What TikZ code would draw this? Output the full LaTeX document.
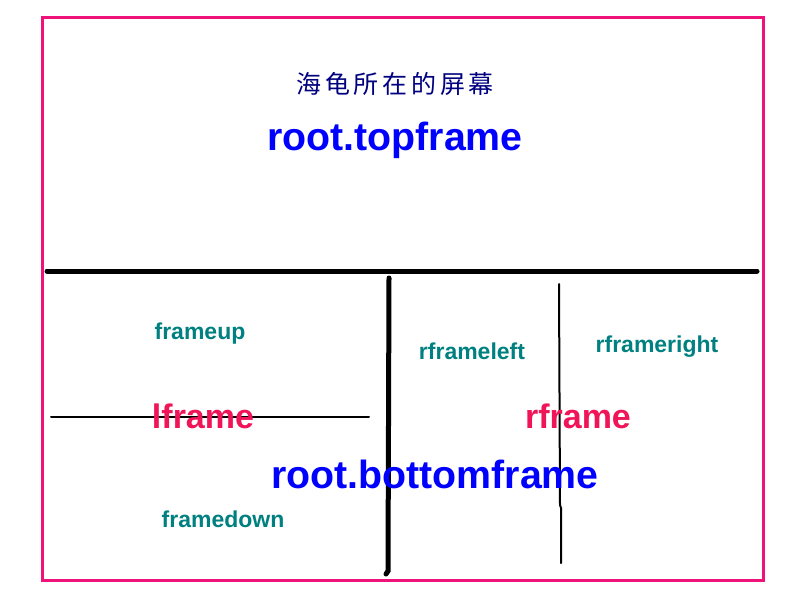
\documentclass[tikz,border=0pt]{standalone}
\usepackage{fontspec}
\setmainfont{Liberation Sans}
\newfontfamily\cjk[LetterSpace=15]{Noto Sans CJK SC}
\definecolor{framepink}{RGB}{238,18,122}
\definecolor{redtxt}{RGB}{240,20,88}
\definecolor{tealtxt}{RGB}{0,128,128}
\definecolor{bluetxt}{RGB}{0,0,255}
\definecolor{navytxt}{RGB}{0,0,128}
\tikzset{
  big/.style={font=\fontsize{39.3}{42}\selectfont\bfseries, text=bluetxt, inner sep=0pt},
  mid/.style={font=\fontsize{34}{36}\selectfont\bfseries, text=redtxt, inner sep=0pt},
  small/.style={font=\fontsize{23}{26}\selectfont\bfseries, text=tealtxt, inner sep=0pt},
  thickline/.style={line width=5pt, line cap=round},
  thinline/.style={line width=2pt, line cap=round},
}
\begin{document}
\begin{tikzpicture}[x=1pt,y=-1pt]
\useasboundingbox (0,0) rectangle (800,600);
\fill[white] (0,0) rectangle (800,600);
\draw[framepink, line width=3pt] (42,17) rectangle (763,580);
% lines
\draw[thickline] (47,271) -- (757,271);
\draw[thickline] (389,278) -- (388,571) -- (386,574);
\draw[thinline] (51,417) -- (369,417);
\draw[thinline] (559,284) -- (560,505) -- (561,508) -- (561,563);
% texts
\node[font=\cjk\fontsize{25}{28}\selectfont, text=navytxt, inner sep=0pt] (title) at (395,84) {海龟所在的屏幕};
\node[big] (top) at (395,140) {root.topframe};
\node[small] (up) at (200,334) {frameup};
\node[mid] (lf) at (203,416) {lframe};
\node[small] (rl) at (472,351) {rframeleft};
\node[small] (rr) at (657,347) {rframeright};
\node[mid] (rf) at (578,416) {rframe};
\node[big] (bot) at (435,474) {root.bottomframe};
\node[small] (down) at (223,519) {framedown};
\end{tikzpicture}
\end{document}
